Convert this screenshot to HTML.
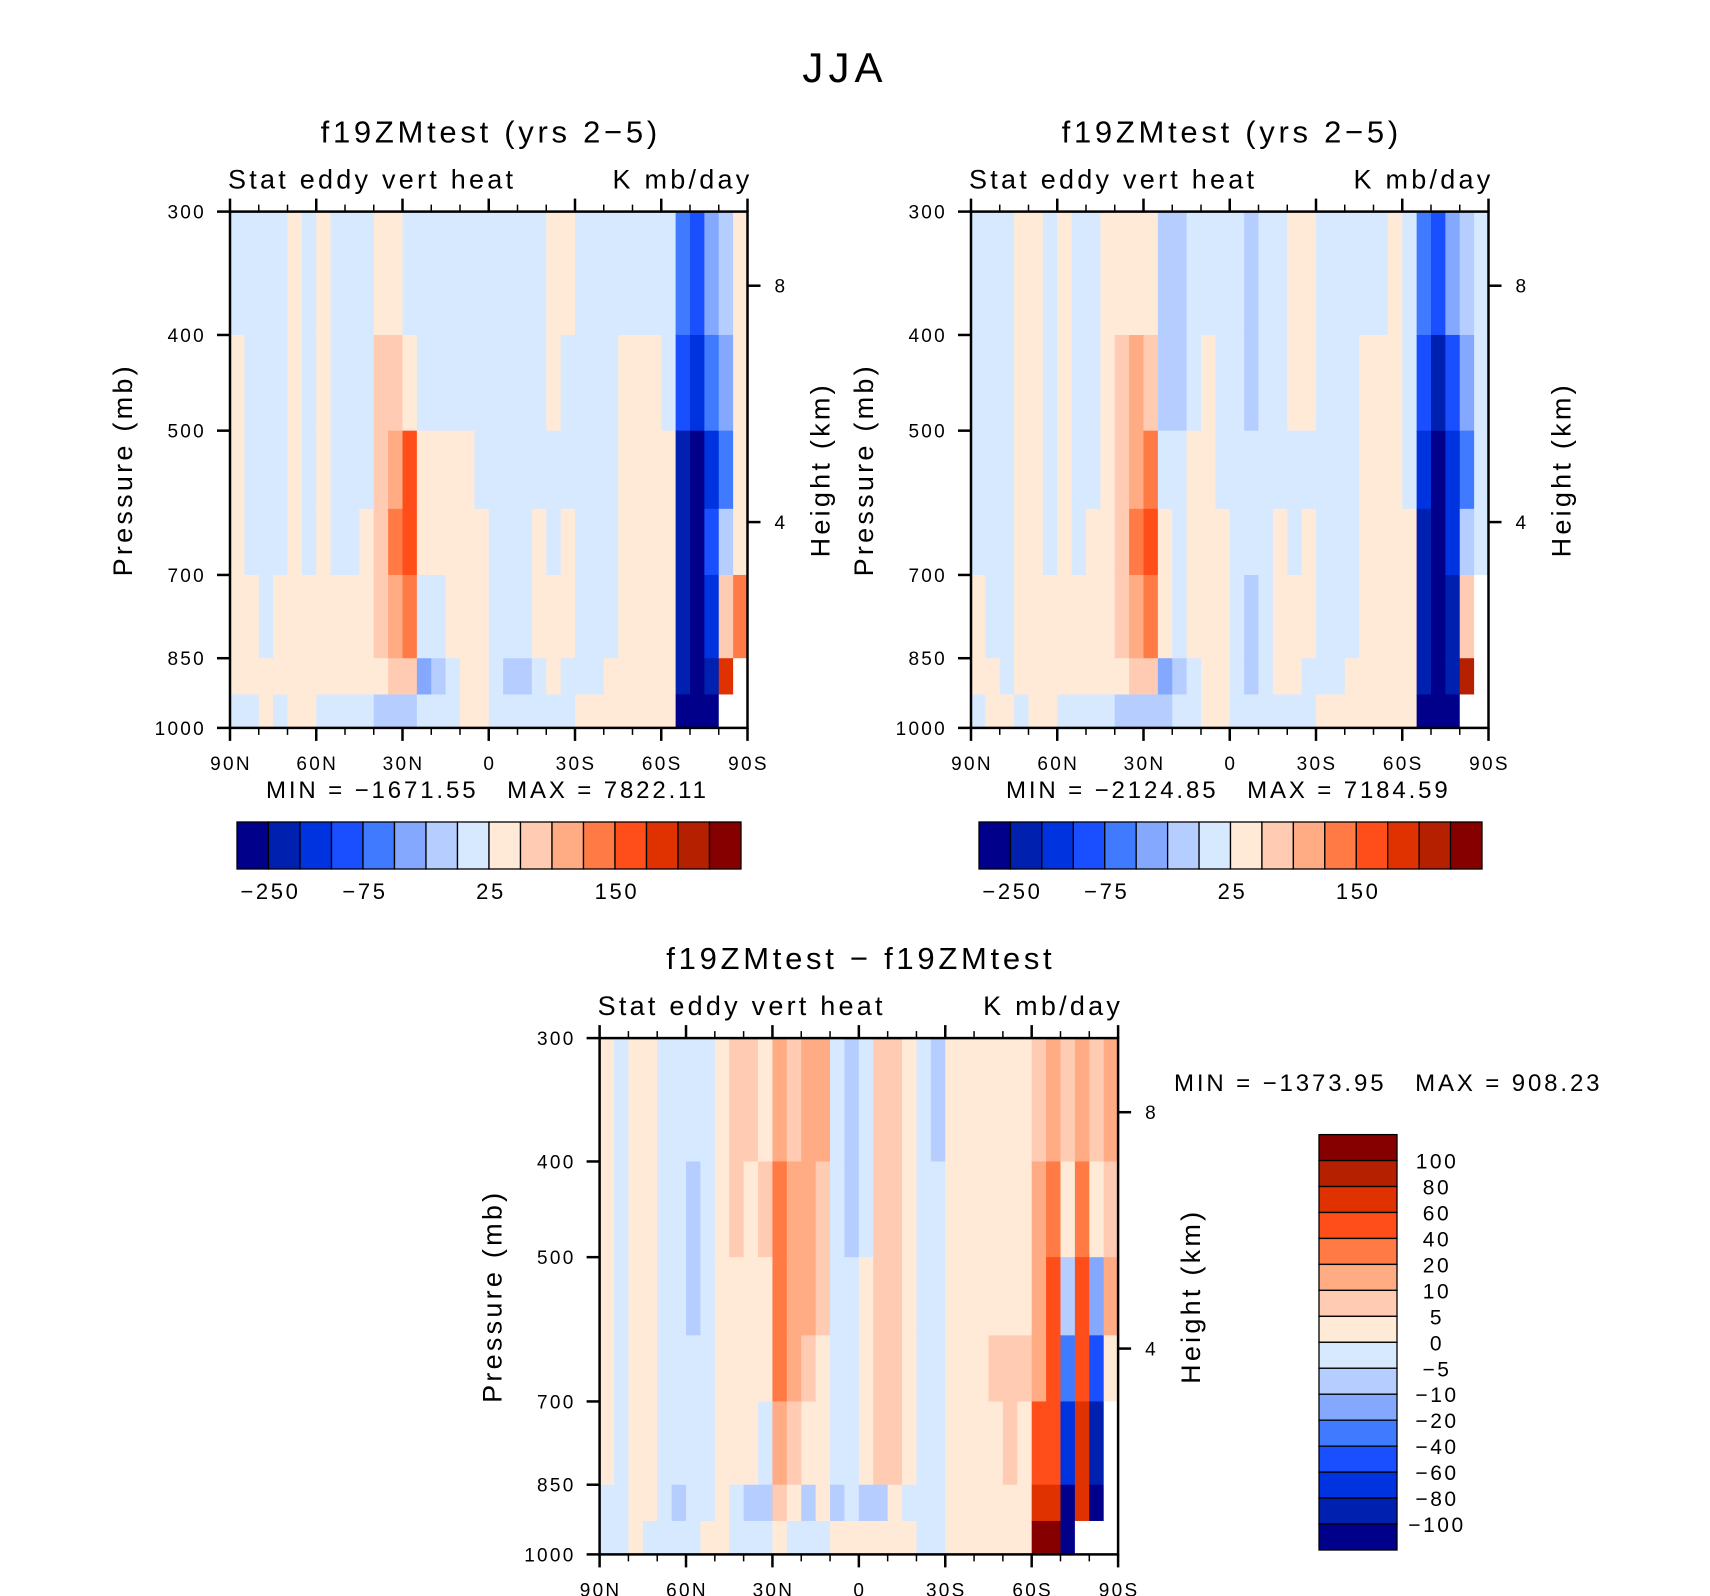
<!DOCTYPE html>
<html><head><meta charset="utf-8">
<style>
html,body{margin:0;padding:0;background:#fff;}
svg{display:block;font-family:"Liberation Sans",sans-serif;}
svg text{letter-spacing:0.12em;}
</style></head>
<body>
<svg id="fig" width="1710" height="1596" viewBox="0 0 1710 1596" xmlns="http://www.w3.org/2000/svg">
<text x="845" y="82" font-size="42" text-anchor="middle">JJA</text>
</svg>
<script>
// palette class index 0..15 (navy -> dark red); -1 = missing
const palette = ['#00008A','#0020B0','#0033E0','#1A4FFF','#3F7AFF','#85A8FF','#B5CEFF','#D7E9FF','#FFEAD8','#FFCBB2','#FFAB84','#FF7A45','#FF4E1A','#E03200','#B52100','#870000'];
// pressure layer boundaries (mb)
const levels = [300,400,500,600,700,850,925,1000];
// latitude tick labels
const latTicks = [90,60,30,0,-30,-60,-90];
const latTickLabels = ['90N','60N','30N','0','30S','60S','90S'];
const pTicks = [300,400,500,700,850,1000];
const zTicks = [8,4];
const cbLabelsTop = ['−250','','','−75','','','','25','','','','150','','',''];
const cbLabelsDiff = ['100','80','60','40','20','10','5','0','−5','−10','−20','−40','−60','−80','−100'];
// grids: 36 latitude columns (90N -> 90S, 5 deg each), 7 layers top->bottom
const grid1 = [
[7,8,8,8,8,8,7],[7,7,7,7,8,8,7],[7,7,7,7,7,8,8],[7,7,7,7,8,8,7],[8,8,8,8,8,8,8],[7,7,7,7,8,8,8],
[8,8,8,8,8,8,7],[7,7,7,7,8,8,7],[7,7,7,7,8,8,7],[7,7,7,8,8,8,7],[8,9,9,9,9,8,6],[8,9,10,11,10,9,6],
[7,8,12,12,11,9,6],[7,7,8,8,7,5,7],[7,7,8,8,7,6,7],[7,7,8,8,8,7,7],[7,7,8,8,8,8,8],[7,7,7,8,8,8,8],
[7,7,7,7,7,7,7],[7,7,7,7,7,6,7],[7,7,7,7,7,6,7],[7,7,7,8,8,7,7],[8,8,7,7,8,8,7],[8,7,7,8,8,7,7],
[7,7,7,7,7,7,8],[7,7,7,7,7,7,8],[7,7,7,7,7,8,8],[7,8,8,8,8,8,8],[7,8,8,8,8,8,8],[7,8,8,8,8,8,8],
[7,7,8,8,8,8,8],[4,3,1,1,1,1,0],[3,2,0,0,0,0,0],[5,4,2,3,2,1,0],[6,5,4,6,9,13,-1],[8,8,8,8,11,-1,-1]];
const grid2 = [
[7,7,7,7,8,8,7],[7,7,7,7,7,8,8],[7,7,7,7,7,7,8],[8,8,8,8,8,8,7],[8,8,8,8,8,8,8],[7,7,7,7,8,8,8],
[8,8,8,8,8,8,7],[7,7,7,7,8,8,7],[7,7,7,8,8,8,7],[8,8,8,8,8,8,7],[8,9,9,9,9,8,6],[8,10,10,11,10,9,6],
[8,9,11,12,11,9,6],[6,6,7,8,8,5,6],[6,6,7,7,7,6,7],[7,7,8,8,8,7,7],[7,8,8,8,8,8,8],[7,7,7,8,8,8,8],
[7,7,7,7,7,7,7],[6,6,7,7,6,6,7],[7,7,7,7,7,7,7],[7,7,7,8,8,8,7],[8,8,7,7,8,8,7],[8,8,7,8,8,7,7],
[7,7,7,7,7,7,8],[7,7,7,7,7,7,8],[7,7,7,7,7,8,8],[7,8,8,8,8,8,8],[7,8,8,8,8,8,8],[8,8,8,8,8,8,8],
[7,7,7,8,8,8,8],[4,3,2,1,1,1,0],[3,1,0,0,0,0,0],[5,3,2,2,1,1,0],[6,5,4,6,9,14,-1],[7,7,7,7,-1,-1,-1]];
const grid3 = [
[8,8,8,8,8,7,7],[7,7,7,7,7,7,7],[8,8,8,8,8,8,8],[8,8,8,8,8,8,7],[7,7,7,7,7,7,7],[7,7,7,7,7,6,7],
[7,6,6,7,7,7,7],[7,7,7,7,7,7,8],[8,8,8,8,8,8,8],[9,9,8,8,8,7,7],[9,8,8,8,8,6,7],[8,9,8,8,7,6,7],
[10,11,11,11,10,9,8],[9,10,10,10,9,8,7],[10,10,10,9,8,6,7],[10,9,9,8,8,8,7],[7,7,7,7,7,6,8],[6,6,7,7,7,7,8],
[7,7,8,8,8,6,8],[9,9,9,9,9,6,8],[9,9,9,9,9,8,8],[8,8,8,8,8,7,8],[7,7,7,7,7,7,7],[6,7,7,7,7,7,7],
[8,8,8,8,8,8,8],[8,8,8,8,8,8,8],[8,8,8,8,8,8,8],[8,8,8,9,8,8,8],[8,8,8,9,9,8,8],[8,8,8,9,8,8,8],
[9,10,10,10,12,13,15],[10,11,12,12,12,13,15],[9,8,6,4,2,0,0],[10,11,12,12,13,13,-1],[9,8,5,3,1,0,-1],[10,9,10,8,-1,-1,-1]];

const NS='http://www.w3.org/2000/svg';
const svg=document.getElementById('fig');
function mk(tag,attrs,parent){const e=document.createElementNS(NS,tag);for(const k in attrs)e.setAttribute(k,attrs[k]);(parent||svg).appendChild(e);return e;}
function txt(s,x,y,size,anchor,parent){const t=mk('text',{x:x,y:y,'font-size':size,'text-anchor':anchor||'start'},parent);t.textContent=s;return t;}

function drawPlot(px,py,w,h,grid,name,titleStr){
  const g=mk('g',{});
  
  
  const xS=lat=>px+(90-lat)/180*w;
  const lp0=Math.log(300),lp1=Math.log(1000);
  const yS=p=>py+(Math.log(p)-lp0)/(lp1-lp0)*h;
  const zToP=z=>Math.exp(6.979-z*0.1378);
  mk('rect',{x:px,y:py,width:w,height:h,fill:'#fff'},g);
  for(let i=0;i<grid.length;i++){
    const la=90-i*180/grid.length, lb=90-(i+1)*180/grid.length;
    for(let j=0;j<levels.length-1;j++){
      const v=grid[i][j];
      const x1=xS(la),x2=xS(lb),y1=yS(levels[j]),y2=yS(levels[j+1]);
      const r=mk('rect',{x:x1,y:y1,width:x2-x1+0.6,height:y2-y1+0.6,fill:v<0?'#fff':palette[v]},g);
      
      
    }
  }
  mk('rect',{x:px,y:py,width:w,height:h,fill:'none',stroke:'#000','stroke-width':2.5},g);
  for(let lat=90;lat>=-90;lat-=10){
    const major=lat%30===0, L=major?13:7, x=xS(lat);
    mk('line',{x1:x,y1:py,x2:x,y2:py-L,stroke:'#000','stroke-width':major?2.5:1.5},g);
    mk('line',{x1:x,y1:py+h,x2:x,y2:py+h+L,stroke:'#000','stroke-width':major?2.5:1.5},g);
  }
  latTicks.forEach((lat,k)=>{const t=txt(latTickLabels[k],xS(lat)+1,py+h+42,19,'middle',g);
    
    });
  pTicks.forEach(p=>{const y=yS(p);
    mk('line',{x1:px,y1:y,x2:px-13,y2:y,stroke:'#000','stroke-width':2.5},g);
    const t=txt(String(p),px-24,y+7,19,'end',g);
    
    });
  zTicks.forEach(z=>{const y=yS(zToP(z));
    mk('line',{x1:px+w,y1:y,x2:px+w+13,y2:y,stroke:'#000','stroke-width':2.5},g);
    const t=txt(String(z),px+w+27,y+7,19,'start',g);
    
    });
  const tt=txt(titleStr,px+w/2+2,py-69,31,'middle',g);
  
  
  const s1=txt('Stat eddy vert heat',px-2,py-23,27,'start',g);
  
  
  const s2=txt('K mb/day',px+w+5,py-23,27,'end',g);
  
  
  const yl=txt('Pressure (mb)',0,0,27,'middle',g);
  yl.setAttribute('transform','translate('+(px-98)+','+(py+h/2)+') rotate(-90)');
  
  
  const zl=txt('Height (km)',0,0,27,'middle',g);
  zl.setAttribute('transform','translate('+(px+w+82)+','+(py+h/2)+') rotate(-90)');
  
  
}

function hColorbar(x,y,w,h,name){
  const g=mk('g',{});
  
  
  const bw=w/palette.length;
  palette.forEach((c,i)=>{const r=mk('rect',{x:x+i*bw,y:y,width:bw,height:h,fill:c,stroke:'#000','stroke-width':1.3},g);
    
    });
  cbLabelsTop.forEach((s,i)=>{if(!s)return;const t=txt(s,x+(i+1)*bw+2,y+h+30,22,'middle',g);
    
    });
}
function vColorbar(x,y,w,h,name){
  const g=mk('g',{});
  
  
  const bh=h/palette.length;
  for(let i=0;i<palette.length;i++){
    const r=mk('rect',{x:x,y:y+i*bh,width:w,height:bh,fill:palette[palette.length-1-i],stroke:'#000','stroke-width':1.3},g);
    
    
  }
  cbLabelsDiff.forEach((s,i)=>{const t=txt(s,x+w+40,y+(i+1)*bh+8,21,'middle',g);
    
    });
}

drawPlot(230,211.6,517.5,516.3,grid1,'panel-test-1','f19ZMtest (yrs 2−5)');
drawPlot(971,211.6,517.5,516.3,grid2,'panel-test-2','f19ZMtest (yrs 2−5)');
drawPlot(599.6,1038.1,518.5,516.3,grid3,'panel-difference','f19ZMtest − f19ZMtest');

let m1=txt('MIN = −1671.55   MAX = 7822.11',266,798,24,'start');


let m2=txt('MIN = −2124.85   MAX = 7184.59',1006,798,24,'start');


let m3=txt('MIN = −1373.95   MAX = 908.23',1174,1091,24,'start');


m1.style.whiteSpace='pre';m2.style.whiteSpace='pre';m3.style.whiteSpace='pre';

hColorbar(237,822,504,47,'colorbar-1');
hColorbar(979,822,503,47,'colorbar-2');
vColorbar(1319,1134.6,78,415.4,'colorbar-diff');
</script>
</body></html>
